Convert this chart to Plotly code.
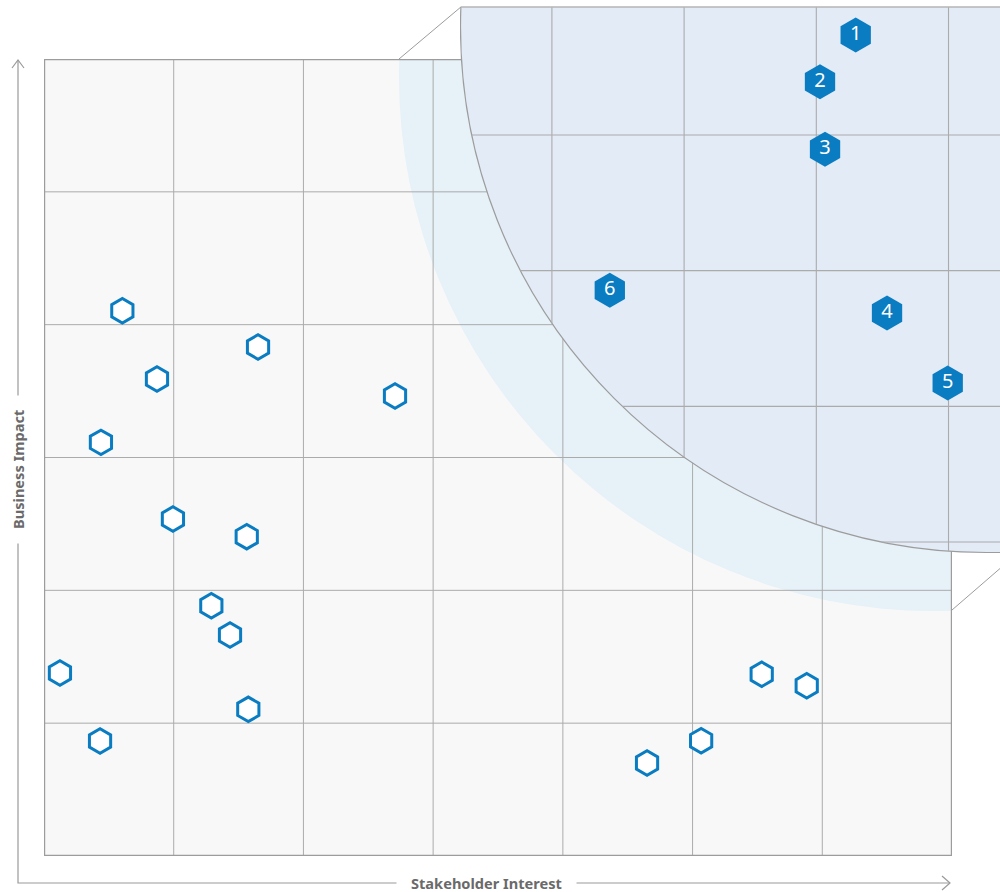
import numpy as np
import plotly.graph_objects as go

# ---------------- data ----------------
x_title = "Stakeholder Interest"
y_title = "Business Impact"
n_cols = 7
n_rows = 6

# hollow hexagons (main view, data units)
hollow_x = [0.604, 1.650, 0.871, 2.706, 0.439, 0.994, 1.563, 1.290, 1.434, 0.123,
            1.575, 0.432, 4.649, 5.066, 5.533, 5.880]
hollow_y = [4.105, 3.832, 3.591, 3.463, 3.114, 2.537, 2.404, 1.884, 1.664, 1.378,
            1.104, 0.866, 0.700, 0.868, 1.368, 1.282]

# numbered hexagons (magnified view, data units)
key_labels = ["1", "2", "3", "4", "5", "6"]
key_x = [6.298, 6.028, 6.066, 6.535, 6.994, 4.438]
key_y = [5.737, 5.393, 4.894, 3.688, 3.172, 3.855]

zoom_cols = [4, 5, 6, 7]
zoom_rows = [2, 3, 4, 5]

# ---------------- layout geometry (pixels) ----------------
W, H = 1000, 892
MX0, MX1, MY0, MY1 = 44, 952, 59, 856          # main plot box
ZX0, ZX1, ZY0, ZY1 = 460, 1000, 7, 600         # magnified subplot box
SX, SY = 132.2, 135.67                         # magnified px per unit
ZAX, ZAY = 948.5, 542                          # px of x2=7 and y2=2

BLUE = "#0a7cc1"
GRID = "#ababab"
EDGE = "#9c9c9c"


def pfx(px):
    return px / W


def pfy(py):
    return (H - py) / H


mux = (MX1 - MX0) / n_cols
muy = (MY1 - MY0) / n_rows


def mx(px):
    return (px - MX0) / mux


def my(py):
    return (MY1 - py) / muy


def zx(px):
    return 7 + (px - ZAX) / SX


def zy(py):
    return 2 + (ZAY - py) / SY


def zpx(v):
    return ZAX + SX * (v - 7)


def zpy(v):
    return ZAY - SY * (v - 2)


# small (source) circle and big (magnified) circle, in px
SC = (933, 77, 534)
BC = (986, 27, 525.5)

shapes = []
# main background
shapes.append(dict(type="rect", xref="x", yref="y", x0=0, x1=n_cols, y0=0, y1=n_rows,
                   fillcolor="#f8f8f8", line=dict(width=0), layer="below"))
# light source circle
cx, cy, r = SC
shapes.append(dict(type="circle", xref="x", yref="y",
                   x0=mx(cx - r), x1=mx(cx + r), y0=my(cy + r), y1=my(cy - r),
                   fillcolor="#e6f1f8", line=dict(width=0), layer="below"))
# main grid
for i in range(1, n_cols):
    shapes.append(dict(type="line", xref="x", yref="y", x0=i, x1=i, y0=0, y1=n_rows,
                       line=dict(color=GRID, width=1), layer="below"))
for j in range(1, n_rows):
    shapes.append(dict(type="line", xref="x", yref="y", x0=0, x1=n_cols, y0=j, y1=j,
                       line=dict(color=GRID, width=1), layer="below"))
shapes.append(dict(type="rect", xref="x", yref="y", x0=0, x1=n_cols, y0=0, y1=n_rows,
                   fillcolor="rgba(0,0,0,0)", line=dict(color=EDGE, width=2.4), layer="below"))

# magnified circle
bx, by, br = BC
shapes.append(dict(type="circle", xref="x2", yref="y2",
                   x0=zx(bx - br), x1=zx(bx + br), y0=zy(by + br), y1=zy(by - br),
                   fillcolor="#e3ebf6", line=dict(color=EDGE, width=1.2), layer="below"))
for c in zoom_cols:
    px = zpx(c)
    bottom = by + np.sqrt(br ** 2 - (px - bx) ** 2)
    shapes.append(dict(type="line", xref="x2", yref="y2", x0=c, x1=c,
                       y0=zy(bottom), y1=zy(ZY0 - 5),
                       line=dict(color=GRID, width=1.1), layer="below"))
for rr in zoom_rows:
    py = zpy(rr)
    left = bx - np.sqrt(br ** 2 - (py - by) ** 2)
    shapes.append(dict(type="line", xref="x2", yref="y2", x0=zx(left), x1=zx(ZX1 + 5),
                       y0=rr, y1=rr, line=dict(color=GRID, width=1.1), layer="below"))

# top edge of magnified area and connectors
top_left = bx - np.sqrt(br ** 2 - (ZY0 - by) ** 2)
shapes.append(dict(type="line", xref="paper", yref="paper",
                   x0=pfx(top_left), x1=pfx(1000), y0=pfy(ZY0), y1=pfy(ZY0),
                   line=dict(color="#b4b4b4", width=1.6), layer="above"))
shapes.append(dict(type="line", xref="paper", yref="paper",
                   x0=pfx(399), x1=pfx(top_left), y0=pfy(MY0), y1=pfy(ZY0),
                   line=dict(color=EDGE, width=1), layer="above"))
shapes.append(dict(type="line", xref="paper", yref="paper",
                   x0=pfx(MX1), x1=pfx(1000), y0=pfy(610), y1=pfy(568.5),
                   line=dict(color=EDGE, width=1), layer="above"))

# L-shaped axis arrows
def P(px, py):
    return f"{pfx(px)},{pfy(py)}"

shapes.append(dict(type="path", xref="paper", yref="paper",
                   path=f"M {P(18, 60)} L {P(18, 883)} L {P(950, 883)}",
                   line=dict(color="#9a9a9a", width=1.2), layer="above"))
shapes.append(dict(type="path", xref="paper", yref="paper",
                   path=f"M {P(12, 68)} L {P(18, 60)} L {P(24, 68)}",
                   line=dict(color="#9a9a9a", width=1.2), layer="above"))
shapes.append(dict(type="path", xref="paper", yref="paper",
                   path=f"M {P(942, 876)} L {P(950, 883)} L {P(942, 890)}",
                   line=dict(color="#9a9a9a", width=1.2), layer="above"))

annotations = [
    dict(xref="paper", yref="paper", x=pfx(18), y=pfy(470), text=f"<b>{y_title}</b>",
         textangle=-90, showarrow=False, bgcolor="white", borderpad=14,
         font=dict(family="Noto Sans", size=14.6, color="#6a6a6a"),
         xanchor="center", yanchor="middle"),
    dict(xref="paper", yref="paper", x=pfx(486), y=pfy(883), text=f"<b>{x_title}</b>",
         showarrow=False, bgcolor="white", borderpad=14,
         font=dict(family="Noto Sans", size=14.6, color="#6a6a6a"),
         xanchor="center", yanchor="middle"),
]

fig = go.Figure()
fig.add_trace(go.Scatter(
    x=hollow_x, y=hollow_y, xaxis="x", yaxis="y", mode="markers",
    marker=dict(symbol="hexagon", size=24.5, color="white",
                line=dict(color=BLUE, width=3)),
    hoverinfo="skip", showlegend=False))
fig.add_trace(go.Scatter(
    x=key_x, y=key_y, xaxis="x2", yaxis="y2", mode="markers+text",
    text=key_labels, textposition="middle center",
    textfont=dict(family="Noto Sans", size=20, color="white"),
    marker=dict(symbol="hexagon", size=35, color=BLUE, line=dict(width=0)),
    cliponaxis=False, hoverinfo="skip", showlegend=False))

fig.update_layout(
    width=W, height=H, autosize=False,
    margin=dict(l=0, r=0, t=0, b=0),
    paper_bgcolor="white", plot_bgcolor="rgba(0,0,0,0)",
    xaxis=dict(domain=[pfx(MX0), pfx(MX1)], range=[0, n_cols], visible=False,
               fixedrange=True),
    yaxis=dict(domain=[pfy(MY1), pfy(MY0)], range=[0, n_rows], visible=False,
               fixedrange=True),
    xaxis2=dict(domain=[pfx(ZX0), pfx(ZX1)], range=[zx(ZX0), zx(ZX1)], anchor="y2",
                visible=False, fixedrange=True),
    yaxis2=dict(domain=[pfy(ZY1), pfy(ZY0)], range=[zy(ZY1), zy(ZY0)], anchor="x2",
                visible=False, fixedrange=True),
    shapes=shapes, annotations=annotations,
    hovermode=False,
)

fig.write_html(
    "out.html",
    config=dict(displayModeBar=False),
    post_script="document.body.style.margin='0px';document.body.style.overflow='hidden';",
)
